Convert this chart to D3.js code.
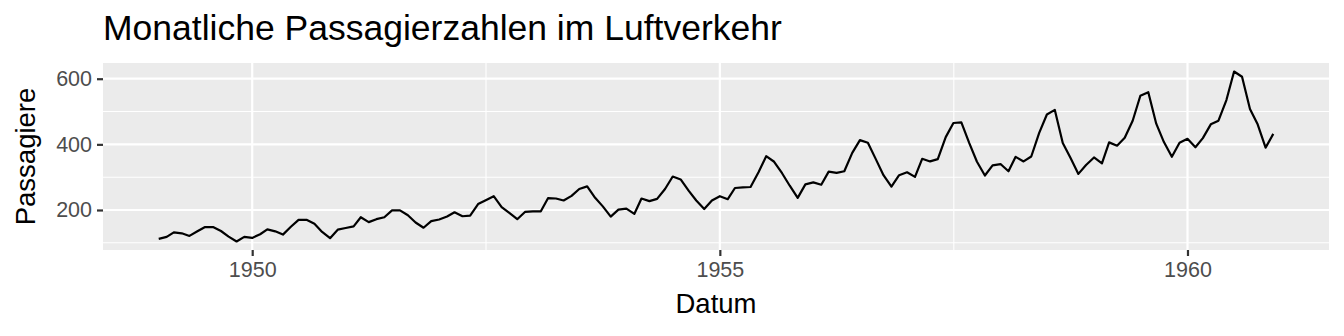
<!DOCTYPE html>
<html>
<head>
<meta charset="utf-8">
<script src="https://cdn.jsdelivr.net/npm/d3@7"></script>
<style>
  body { margin: 0; background: #fff; }
  text { font-family: "Liberation Sans", Arial, sans-serif; }
</style>
</head>
<body>
<svg id="chart" width="1344" height="336"></svg>
<script>
// AirPassengers, monatlich 1949-1960
var years = [1949, 1950, 1951, 1952, 1953, 1954, 1955, 1956, 1957, 1958, 1959, 1960];
var passengers = [
  [112, 118, 132, 129, 121, 135, 148, 148, 136, 119, 104, 118],
  [115, 126, 141, 135, 125, 149, 170, 170, 158, 133, 114, 140],
  [145, 150, 178, 163, 172, 178, 199, 199, 184, 162, 146, 166],
  [171, 180, 193, 181, 183, 218, 230, 242, 209, 191, 172, 194],
  [196, 196, 236, 235, 229, 243, 264, 272, 237, 211, 180, 201],
  [204, 188, 235, 227, 234, 264, 302, 293, 259, 229, 203, 229],
  [242, 233, 267, 269, 270, 315, 364, 347, 312, 274, 237, 278],
  [284, 277, 317, 313, 318, 374, 413, 405, 355, 306, 271, 306],
  [315, 301, 356, 348, 355, 422, 465, 467, 404, 347, 305, 336],
  [340, 318, 362, 348, 363, 435, 491, 505, 404, 359, 310, 337],
  [360, 342, 406, 396, 420, 472, 548, 559, 463, 407, 362, 405],
  [417, 391, 419, 461, 472, 535, 622, 606, 508, 461, 390, 432]
];
var yTicks = [200, 400, 600];
var yMinor = [100, 300, 500];
var xTickYears = [1950, 1955, 1960];
var xMinorYears = [1952.5, 1957.5];

var data = [];
years.forEach(function(y, i) {
  passengers[i].forEach(function(v, m) {
    data.push({ date: new Date(y, m, 1), value: v });
  });
});

var svg = d3.select("#chart");
var pLeft = 103, pRight = 1329, pTop = 63, pBottom = 250;

// ggplot-like 5% expansion
var xExt = d3.extent(data, function(d) { return d.date; });
var xSpan = xExt[1] - xExt[0];
var x = d3.scaleTime()
  .domain([new Date(+xExt[0] - xSpan * 0.05), new Date(+xExt[1] + xSpan * 0.05)])
  .range([pLeft, pRight]);

var yExt = d3.extent(data, function(d) { return d.value; });
var ySpan = yExt[1] - yExt[0];
var y = d3.scaleLinear()
  .domain([yExt[0] - ySpan * 0.05, yExt[1] + ySpan * 0.05])
  .range([pBottom, pTop]);

function yearDate(yr) {
  var whole = Math.floor(yr);
  var start = new Date(whole, 0, 1), end = new Date(whole + 1, 0, 1);
  return new Date(+start + (yr - whole) * (end - start));
}

// panel background
svg.append("rect")
  .attr("x", pLeft).attr("y", pTop)
  .attr("width", pRight - pLeft).attr("height", pBottom - pTop)
  .attr("fill", "#EBEBEB");

var grid = svg.append("g");
// minor grid
grid.selectAll(".ymin").data(yMinor).enter().append("line")
  .attr("x1", pLeft).attr("x2", pRight)
  .attr("y1", function(d) { return y(d); }).attr("y2", function(d) { return y(d); })
  .attr("stroke", "#fff").attr("stroke-width", 1.1);
grid.selectAll(".xmin").data(xMinorYears).enter().append("line")
  .attr("y1", pTop).attr("y2", pBottom)
  .attr("x1", function(d) { return x(yearDate(d)); }).attr("x2", function(d) { return x(yearDate(d)); })
  .attr("stroke", "#fff").attr("stroke-width", 1.1);
// major grid
grid.selectAll(".ymaj").data(yTicks).enter().append("line")
  .attr("x1", pLeft).attr("x2", pRight)
  .attr("y1", function(d) { return y(d); }).attr("y2", function(d) { return y(d); })
  .attr("stroke", "#fff").attr("stroke-width", 2.2);
grid.selectAll(".xmaj").data(xTickYears).enter().append("line")
  .attr("y1", pTop).attr("y2", pBottom)
  .attr("x1", function(d) { return x(yearDate(d)); }).attr("x2", function(d) { return x(yearDate(d)); })
  .attr("stroke", "#fff").attr("stroke-width", 2.2);

// line
var line = d3.line()
  .x(function(d) { return x(d.date); })
  .y(function(d) { return y(d.value); });
svg.append("path")
  .datum(data)
  .attr("d", line)
  .attr("fill", "none")
  .attr("stroke", "#000")
  .attr("stroke-width", 2.2)
  .attr("stroke-linejoin", "round");

// axes
var xAxis = svg.append("g")
  .attr("transform", "translate(0," + pBottom + ")")
  .call(d3.axisBottom(x)
    .tickValues(xTickYears.map(yearDate))
    .tickFormat(d3.timeFormat("%Y"))
    .tickSize(6).tickPadding(4));
var yAxis = svg.append("g")
  .attr("transform", "translate(" + pLeft + ",0)")
  .call(d3.axisLeft(y).tickValues(yTicks).tickSize(6).tickPadding(5));

[xAxis, yAxis].forEach(function(a) {
  a.attr("font-family", null).attr("font-size", null);
  a.select(".domain").remove();
  a.selectAll(".tick line").attr("stroke", "#333").attr("stroke-width", 2.2);
  a.selectAll(".tick text").attr("fill", "#4D4D4D").attr("font-size", 21.5);
});
xAxis.selectAll(".tick text").attr("dy", "0.8em");

// titles
svg.append("text")
  .attr("x", 103).attr("y", 40)
  .attr("font-size", 35.5).attr("fill", "#000")
  .text("Monatliche Passagierzahlen im Luftverkehr");
svg.append("text")
  .attr("x", (pLeft + pRight) / 2).attr("y", 313)
  .attr("text-anchor", "middle")
  .attr("font-size", 27.5).attr("fill", "#000")
  .text("Datum");
svg.append("text")
  .attr("transform", "translate(35," + ((pTop + pBottom) / 2) + ") rotate(-90)")
  .attr("text-anchor", "middle")
  .attr("font-size", 27.5).attr("fill", "#000")
  .text("Passagiere");
</script>
</body>
</html>
